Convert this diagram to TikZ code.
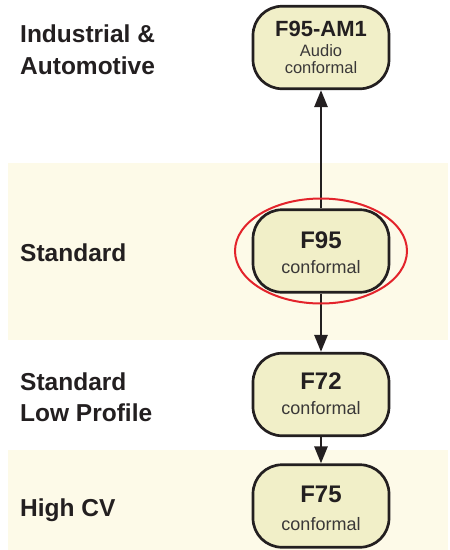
\documentclass[tikz,border=0pt]{standalone}
\usepackage{fontspec}
\setmainfont{Liberation Sans}
\usetikzlibrary{arrows.meta}
\definecolor{band}{HTML}{FDFAE8}
\definecolor{boxfill}{HTML}{F1EFC8}
\definecolor{ink}{HTML}{231F20}
\definecolor{subink}{HTML}{3A3838}
\definecolor{ring}{HTML}{E3232B}
\begin{document}
\begin{tikzpicture}[x=1pt,y=-1pt,
  prod/.style={draw=ink, line width=2.7pt, fill=boxfill, rounded corners=29pt,
    minimum width=136pt, minimum height=82.5pt, inner sep=0pt},
  tier/.style={anchor=base west, font=\bfseries\fontsize{24.5}{24.5}\selectfont, text=ink, inner sep=0pt},
  pname/.style={anchor=base, font=\bfseries\fontsize{24}{24}\selectfont, text=ink, inner sep=0pt},
  pnamesm/.style={anchor=base, font=\bfseries\fontsize{22}{22}\selectfont, text=ink, inner sep=0pt},
  psub/.style={anchor=base, font=\fontsize{18}{18}\selectfont, text=subink, inner sep=0pt},
  psubsm/.style={anchor=base, font=\fontsize{16.5}{16.5}\selectfont, text=subink, inner sep=0pt},
  flow/.style={draw=ink, line width=2.7pt, -{Triangle[length=17pt,width=13pt]}}]
\useasboundingbox (0,0) rectangle (450,550);
% bands
\fill[band] (8,163) rectangle (448,340);
\fill[band] (8,450) rectangle (448,550);
% tier labels
\node[tier] (t1a) at (20,42) {Industrial \&};
\node[tier] (t1b) at (20,74) {Automotive};
\node[tier] (t2) at (20,261) {Standard};
\node[tier] (t3a) at (20,390) {Standard};
\node[tier] (t3b) at (20,421) {Low Profile};
\node[tier] (t4) at (20,516) {High CV};
% product boxes
\node[prod] (am1) at (321,47.5) {};
\node[prod] (f95) at (321,251) {};
\node[prod] (f72) at (321,394.5) {};
\node[prod] (f75) at (321,506) {};
% texts
\node[pnamesm] (am1n) at (321,36) {F95-AM1};
\node[psubsm] (am1a) at (321,56) {Audio};
\node[psubsm] (am1b) at (321,73) {conformal};
\node[pname] (f95n) at (321,248) {F95};
\node[psub] (f95s) at (321,273) {conformal};
\node[pname] (f72n) at (321,389) {F72};
\node[psub] (f72s) at (321,414) {conformal};
\node[pname] (f75n) at (321,502) {F75};
\node[psub] (f75s) at (321,530) {conformal};
% connectors
\draw[flow] (f95.north) -- (am1.south);
\draw[flow] (f95.south) -- (f72.north);
\draw[flow] (f72.south) -- (f75.north);
% highlight ring
\draw[ring, line width=2pt] (f95.center) ellipse [x radius=86, y radius=52.5];
\end{tikzpicture}
\end{document}
